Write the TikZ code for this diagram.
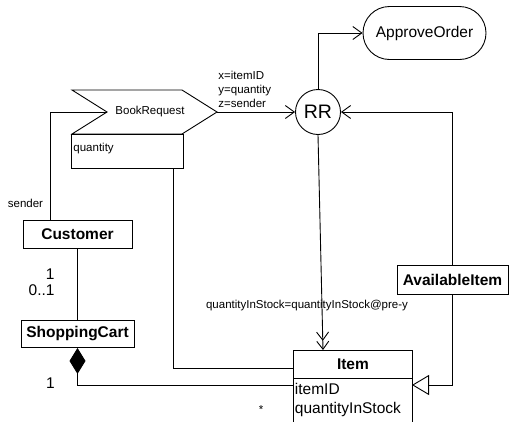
\documentclass[tikz,border=0pt]{standalone}
\usepackage{fontspec}
\setmainfont{Liberation Sans}
\usetikzlibrary{arrows.meta,shapes.misc}
\begin{document}
\begin{tikzpicture}[x=1pt,y=-1pt,line width=0.9pt,
  small/.style={font=\fontsize{11.5}{14}\selectfont,inner sep=0pt},
  big/.style={font=\fontsize{15.5}{18}\selectfont,inner sep=0pt},
  classbox/.style={draw,inner sep=0pt,font=\fontsize{15.5}{18}\selectfont\bfseries},
  barb/.style={-{Straight Barb[length=9pt,width=13pt,line width=0.9pt]}},
  dbarb/.style={-{Straight Barb[length=8pt,width=12pt,line width=0.9pt]Straight Barb[length=8pt,width=12pt,line width=0.9pt]}}
]
\clip (0,0) rectangle (509,421);
\fill[white] (0,0) rectangle (509,421);

% BookRequest signal shape
\draw (72,90) -- (182,90) -- (217,112) -- (182,134) -- (72,134) -- (107,112) -- cycle;
\node[small] (brtext) at (150,112) {BookRequest};
\coordinate (brnotch) at (107,112);
\coordinate (brtip) at (217,112);
\node[draw,minimum width=112pt,minimum height=34pt,anchor=north west,inner sep=0pt] (qbox) at (71,134) {};
\node[small,anchor=west] (qtext) at (73,149) {quantity};

% RR and ApproveOrder
\node[draw,circle,minimum size=45pt,inner sep=0pt,font=\fontsize{19.5}{22}\selectfont] (rr) at (318,112) {RR};
\node[draw,rounded rectangle,minimum width=123pt,minimum height=53pt,inner sep=0pt,font=\fontsize{15.5}{18}\selectfont] (ao) at (424.5,33) {ApproveOrder};

% classes
\node[classbox,minimum width=109pt,minimum height=28pt] (cust) at (77.5,234) {Customer};
\node[classbox,minimum width=113pt,minimum height=27pt] (cart) at (77.5,334) {ShoppingCart};
\node[classbox,minimum width=111pt,minimum height=29pt] (avail) at (452.5,279.5) {AvailableItem};
\node[classbox,minimum width=119pt,minimum height=28pt,anchor=north west] (item) at (293,350) {Item};
\node[draw,minimum width=119pt,minimum height=60pt,anchor=north west,inner sep=0pt] (itemattr) at (293,378) {};
\node[big,anchor=west] (a1) at (294.5,389) {itemID};
\node[big,anchor=west] (a2) at (294.5,409) {quantityInStock};

% helper coordinates
\coordinate (c1) at (50,220);
\coordinate (q1) at (173,168);
\coordinate (i1) at (293,368);
\coordinate (i2) at (293,385);
\coordinate (itop) at (323,350);
\coordinate (iR) at (412,385);

% connectors
\draw (brnotch) -| (c1);
\draw (cust) -- (cart);
\draw[{Diamond[length=26pt,width=16pt]}-] (cart.south) |- (i2);
\draw (q1) |- (i1);
\draw[barb] (brtip) -- (rr.west);
\draw[barb] (rr.north) |- (ao.west);
\draw[barb] (avail.north) |- (rr.east);
\draw[dbarb] (rr.south) -- (itop);
\draw[-{Triangle[open,length=17pt,width=20pt,line width=0.9pt]}] (avail.south) |- (iR);

% labels
\node[small,anchor=west,align=left] (xyz) at (218,89) {x=itemID\\y=quantity\\z=sender};
\node[small] (post) at (307,306) {quantityInStock=quantityInStock@pre-y};
\node[small] (snd) at (25.5,203) {sender};
\node[big,anchor=east] (m1) at (55,274.5) {1};
\node[big,anchor=east] (m2) at (55,290) {0..1};
\node[big] (m3) at (50.5,383) {1};
\node[small] (m4) at (261,410) {*};
\end{tikzpicture}
\end{document}
